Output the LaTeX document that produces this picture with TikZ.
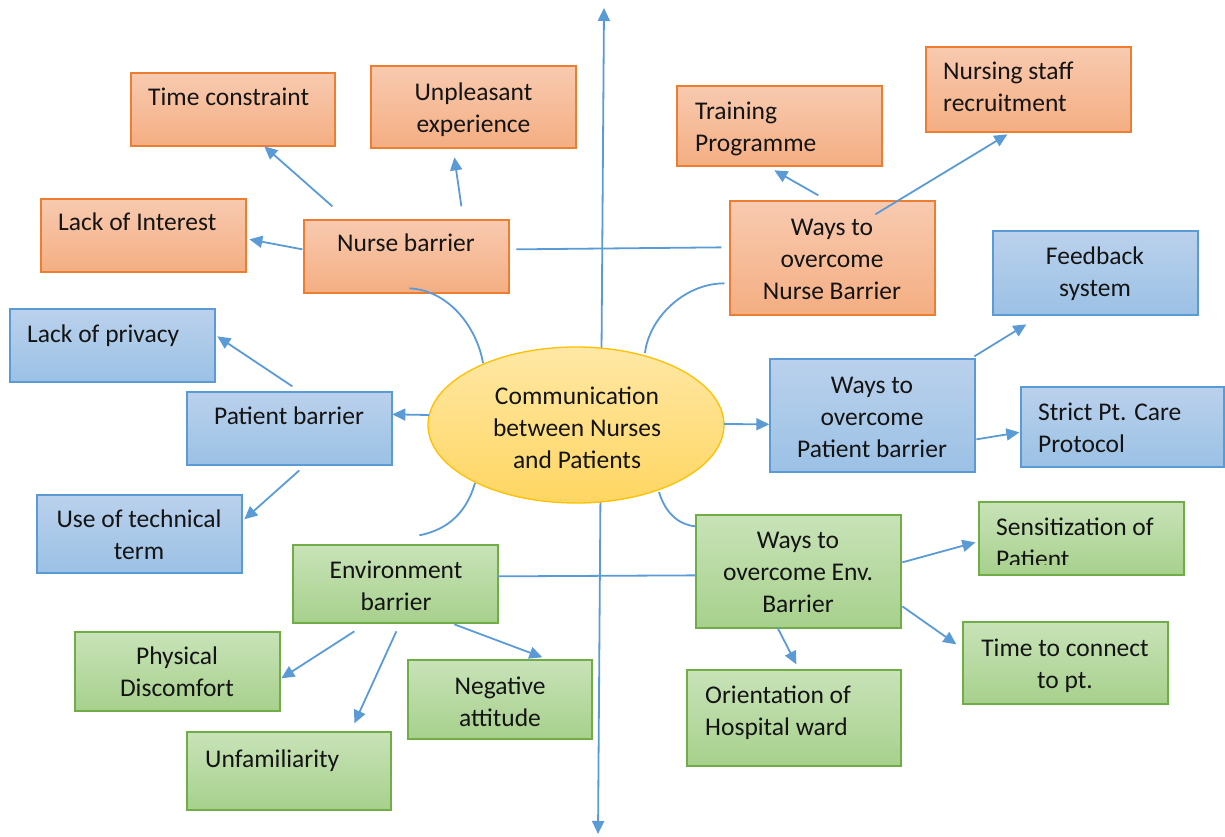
\documentclass[tikz,border=0pt]{standalone}
\usepackage{fontspec}
\setmainfont{Carlito}
\usetikzlibrary{arrows.meta,calc,shapes.geometric}
\definecolor{oT}{RGB}{248,202,176}
\definecolor{oB}{RGB}{244,174,130}
\definecolor{oD}{RGB}{237,125,49}
\definecolor{bT}{RGB}{186,209,236}
\definecolor{bB}{RGB}{155,193,229}
\definecolor{bD}{RGB}{91,155,213}
\definecolor{gT}{RGB}{200,227,184}
\definecolor{gB}{RGB}{167,208,140}
\definecolor{gD}{RGB}{112,173,71}
\definecolor{eT}{RGB}{255,232,165}
\definecolor{eB}{RGB}{255,214,98}
\definecolor{eD}{RGB}{255,192,0}
\definecolor{ln}{RGB}{91,155,213}
\definecolor{tx}{RGB}{20,20,20}
\begin{document}
\begin{tikzpicture}[x=1pt,y=-1pt,
  box/.style={draw,line width=1.3pt,inner sep=0pt},
  obox/.style={box,draw=oD,top color=oT,bottom color=oB},
  bbox/.style={box,draw=bD,top color=bT,bottom color=bB},
  gbox/.style={box,draw=gD,top color=gT,bottom color=gB},
  txt/.style={font=\fontsize{25.5}{32}\selectfont,text=tx,inner sep=0pt,align=center,yshift=-2pt},
  ltxt/.style={txt,align=left,anchor=west},
  con/.style={draw=ln,line width=1.8pt},
  arr/.style={con,-{Triangle[length=13pt,width=12pt]}}]
\useasboundingbox (0,0) rectangle (1225,837);

% axis
\coordinate (axtop) at (604,8);
\coordinate (axbot) at (598,834);
\draw[con,{Triangle[length=13pt,width=12pt]}-{Triangle[length=13pt,width=12pt]}] (axbot) -- (axtop);

% central ellipse
\node[ellipse,draw=eD,line width=1.3pt,top color=eT,bottom color=eB,minimum width=296pt,minimum height=156pt,inner sep=0pt] (ell) at (576,425) {};
\node[txt] (tell) at (577,428) {\strut Communication\\\strut between Nurses\\\strut and Patients};

% orange boxes
\node[obox,minimum width=204pt,minimum height=73pt] (tc) at (233,109.5) {};
\node[ltxt] (ttc) at (148,97) {\strut Time constraint};
\node[obox,minimum width=205pt,minimum height=82pt] (ue) at (473.5,107) {};
\node[txt] (tue) at (473.5,108) {\strut Unpleasant\\\strut experience};
\node[obox,minimum width=205pt,minimum height=73pt] (li) at (143.5,235.5) {};
\node[ltxt] (tli) at (58,222) {\strut Lack of Interest};
\node[obox,minimum width=205pt,minimum height=73pt] (nb) at (406.5,256.5) {};
\node[txt] (tnb) at (406,243) {\strut Nurse barrier};
\node[obox,minimum width=205pt,minimum height=80pt] (tp) at (779.5,126) {};
\node[ltxt] (ttp) at (695,127.5) {\strut Training\\\strut Programme};
\node[obox,minimum width=205pt,minimum height=85pt] (ns) at (1028.5,89.5) {};
\node[ltxt] (tns) at (943,87.5) {\strut Nursing staff\\\strut recruitment};
\node[obox,minimum width=205pt,minimum height=114pt] (wn) at (832.5,258) {};
\node[txt] (twn) at (832,259) {\strut Ways to\\\strut overcome\\\strut Nurse Barrier};

% blue boxes
\node[bbox,minimum width=205pt,minimum height=84pt] (fs) at (1095.5,273) {};
\node[txt] (tfs) at (1095,272.5) {\strut Feedback\\\strut system};
\node[bbox,minimum width=205pt,minimum height=73pt] (lp) at (112.5,345.5) {};
\node[ltxt] (tlp) at (27,334) {\strut Lack of privacy};
\node[bbox,minimum width=205pt,minimum height=73pt] (pb) at (289.5,428.5) {};
\node[txt] (tpb) at (289,416) {\strut Patient barrier};
\node[bbox,minimum width=205pt,minimum height=113pt] (wp) at (872.5,415.5) {};
\node[txt] (twp) at (872,417) {\strut Ways to\\\strut overcome\\\strut Patient barrier};
\node[bbox,minimum width=203pt,minimum height=80pt] (sp) at (1122.5,427) {};
\node[ltxt] (tsp) at (1038,428) {\strut Strict Pt. Care\\\strut Protocol};
\node[bbox,minimum width=205pt,minimum height=78pt] (ut) at (139.5,534) {};
\node[txt] (tut) at (139,535.5) {\strut Use of technical\\\strut term};

% green boxes
\node[gbox,minimum width=205pt,minimum height=78pt] (eb) at (395.5,584) {};
\node[txt] (teb) at (396,586) {\strut Environment\\\strut barrier};
\node[gbox,minimum width=205pt,minimum height=113pt] (we) at (798.5,571.5) {};
\node[txt] (twe) at (798,572.5) {\strut Ways to\\\strut overcome Env.\\\strut Barrier};
\node[gbox,minimum width=205pt,minimum height=73pt] (sz) at (1081.5,538.5) {};
\begin{scope}
\clip (979,502) rectangle (1184,564);
\node[ltxt] (tsz) at (996,543.5) {\strut Sensitization of\\\strut Patient};
\end{scope}
\node[gbox,minimum width=205pt,minimum height=79pt] (pd) at (177.5,671.5) {};
\node[txt] (tpd) at (177,672.5) {\strut Physical\\\strut Discomfort};
\node[gbox,minimum width=184pt,minimum height=79pt] (na) at (500,699.5) {};
\node[txt] (tna) at (500,702.5) {\strut Negative\\\strut attitude};
\node[gbox,minimum width=204pt,minimum height=78pt] (un) at (289,771) {};
\node[ltxt] (tun) at (205,759) {\strut Unfamiliarity};
\node[gbox,minimum width=214pt,minimum height=96pt] (oh) at (794,718) {};
\node[ltxt] (toh) at (705,711.5) {\strut Orientation of\\\strut Hospital ward};
\node[gbox,minimum width=205pt,minimum height=82pt] (tt) at (1065.5,663) {};
\node[txt] (ttt) at (1065,664) {\strut Time to connect\\\strut to pt.};

% plain lines
\draw[con] ($(nb.north west)+(213,30)$) -- ($(wn.north west)+(-8,47)$);
\draw[con] ($(eb.north west)+(205,32)$) -- ($(we.north west)+(0,61)$);

% curves
\draw[con] ($(nb.north west)+(106,69)$) .. controls +(40,2) and +(-6,-35) .. ($(ell.center)+(-93,-62)$);
\draw[con] ($(wn.north west)+(-5,83)$) .. controls +(-40,0) and +(4,-35) .. ($(ell.center)+(69,-72)$);
\draw[con] ($(ell.center)+(-101,58)$) .. controls +(-8,28) and +(30,-6) .. ($(eb.north west)+(127,-9)$);
\draw[con] ($(ell.center)+(83,67)$) .. controls +(6,20) and +(-18,-2) .. ($(we.north west)+(0,12)$);

% arrows
\draw[arr] ($(nb.north west)+(29,-13)$) -- ($(tc.north west)+(134,74)$);
\draw[arr] ($(nb.north west)+(158,-13)$) -- ($(ue.north west)+(84,92)$);
\draw[arr] ($(nb.north west)+(-1,30)$) -- ($(li.north west)+(209,41)$);
\draw[arr] ($(wn.north west)+(89,-5)$) -- ($(tp.north west)+(98,85)$);
\draw[arr] ($(wn.north west)+(146,14)$) -- ($(ns.north west)+(82,88)$);
\draw[arr] ($(pb.north west)+(106,-5)$) -- ($(lp.north west)+(208,28)$);
\draw[arr] ($(ell.center)+(-147,-10)$) -- ($(pb.north west)+(206,23)$);
\draw[arr] ($(pb.north west)+(113,79)$) -- ($(ut.north west)+(208,25)$);
\draw[arr] ($(ell.center)+(148,-1)$) -- ($(wp.north west)+(0,66)$);
\draw[arr] ($(wp.north west)+(205,-2)$) -- ($(fs.north west)+(34,94)$);
\draw[arr] ($(wp.north west)+(207,81)$) -- ($(sp.north west)+(-1,46)$);
\draw[arr] ($(we.north west)+(207,48)$) -- ($(sz.north west)+(-3,41)$);
\draw[arr] ($(we.north west)+(207,92)$) -- ($(tt.north west)+(-6,23)$);
\draw[arr] ($(we.north west)+(82,113)$) -- ($(oh.north west)+(110,-5)$);
\draw[arr] ($(eb.north west)+(62,87)$) -- ($(pd.north west)+(207,47)$);
\draw[arr] ($(eb.north west)+(104,87)$) -- ($(un.north west)+(168,-8)$);
\draw[arr] ($(eb.north west)+(162,80)$) -- ($(na.north west)+(135,-2)$);
\end{tikzpicture}
\end{document}
